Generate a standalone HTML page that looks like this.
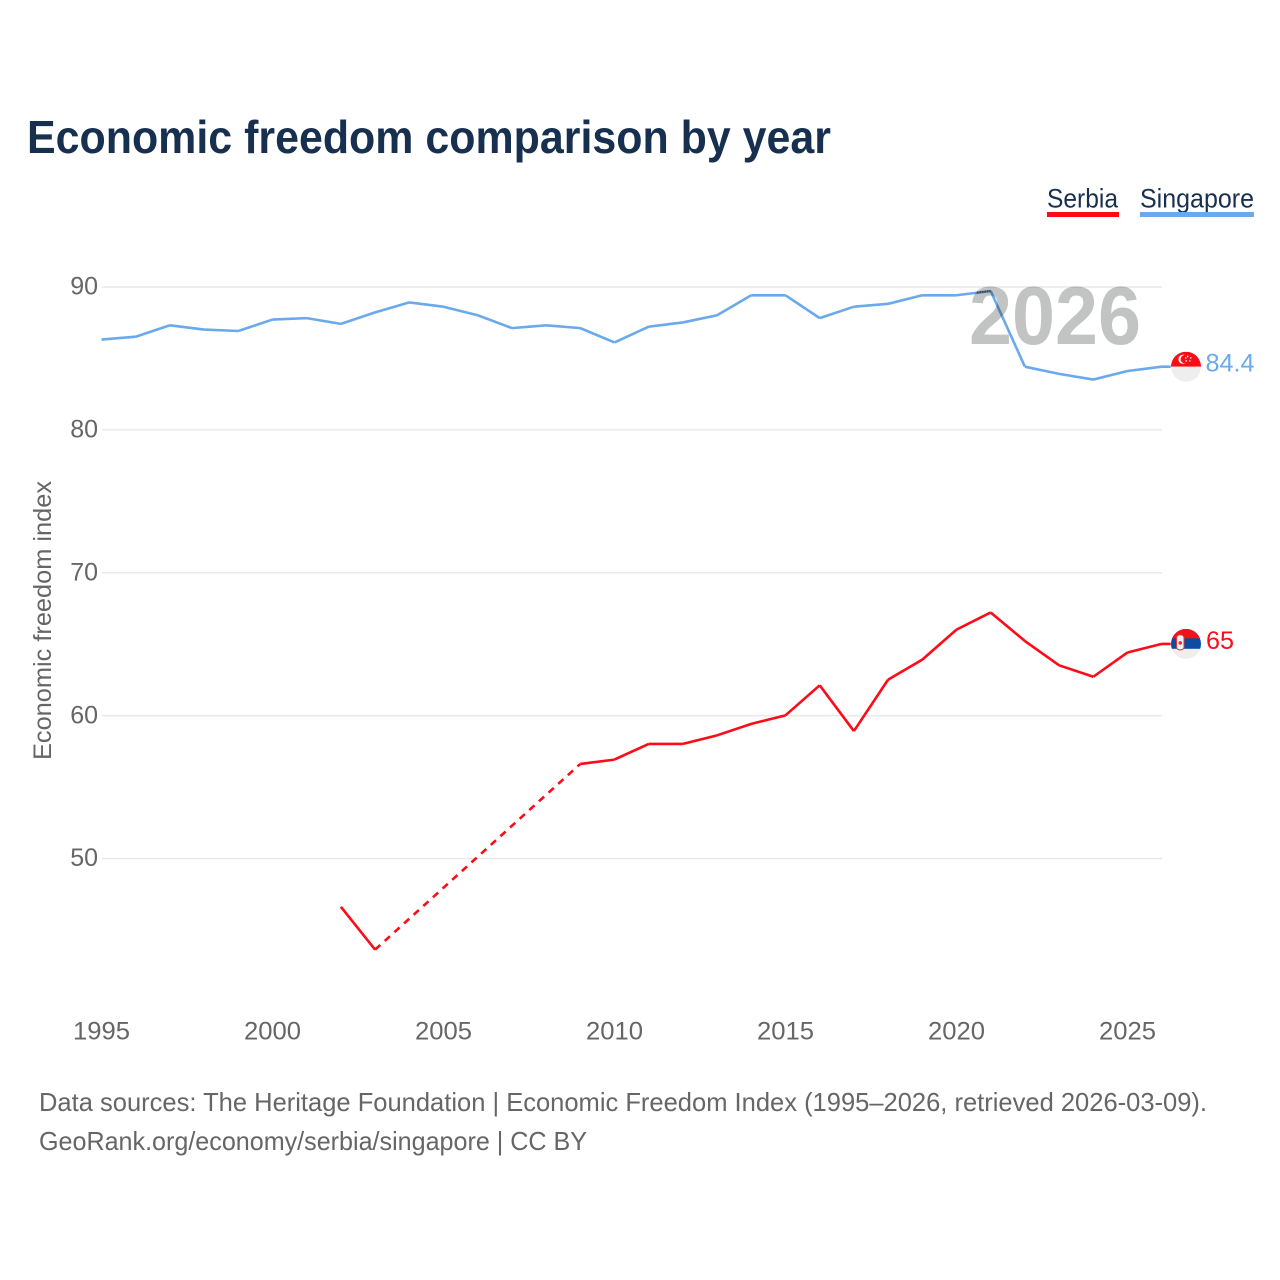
<!DOCTYPE html>
<html>
<head>
<meta charset="utf-8">
<style>
html,body{margin:0;padding:0;background:#fff;}
svg{display:block;font-family:"Liberation Sans",sans-serif;}
</style>
</head>
<body>
<svg id="chart" xmlns="http://www.w3.org/2000/svg" width="1280" height="1280" viewBox="0 0 1280 1280">
  <rect width="1280" height="1280" fill="#fff"/>
  <text x="27" y="153" font-size="46" font-weight="700" fill="#18304f" textLength="804" lengthAdjust="spacingAndGlyphs">Economic freedom comparison by year</text>
  <g>
    <g>
      <text x="1047" y="207.5" font-size="27" fill="#18304f" textLength="71" lengthAdjust="spacingAndGlyphs">Serbia</text>
      <rect x="1047" y="212" width="72" height="5" fill="#ff0a17"/>
    </g>
    <g>
      <text x="1140" y="207.5" font-size="27" fill="#18304f" textLength="114" lengthAdjust="spacingAndGlyphs">Singapore</text>
      <rect x="1140" y="212" width="114" height="5" fill="#6aa9ec"/>
    </g>
  </g>
  <text transform="translate(51,620.5) rotate(-90)" text-anchor="middle" font-size="25" fill="#666" textLength="279" lengthAdjust="spacingAndGlyphs">Economic freedom index</text>
  <g id="grid"></g>
  <g id="yticks"></g>
  <g id="xticks"></g>
  <g id="series"></g>
  <text id="yearLabel" x="1055" y="344" text-anchor="middle" font-size="83" font-weight="700" fill="#c2c4c3" style="mix-blend-mode:multiply" textLength="172" lengthAdjust="spacingAndGlyphs">2026</text>
  <g id="overlap"></g>
  <defs>
    <clipPath id="flagClip"><circle cx="0" cy="0" r="15"/></clipPath>
  </defs>
  <g id="endSerbia">
    <g clip-path="url(#flagClip)">
      <rect x="-15" y="-15" width="30" height="10" fill="#f0131e"/>
      <rect x="-15" y="-5.5" width="30" height="10.5" fill="#0c4da2"/>
      <rect x="-15" y="5" width="30" height="10" fill="#eeeeee"/>
      <rect x="-9.5" y="-9" width="7.5" height="15" rx="3" fill="#f4f0f0" stroke="#e8303a" stroke-width="1"/>
      <circle cx="-5.7" cy="-1" r="1.8" fill="#e8303a"/>
    </g>
    <text id="labelSerbia" x="20" y="5" font-size="25" fill="#ff0a17" textLength="28" lengthAdjust="spacingAndGlyphs">65</text>
  </g>
  <g id="endSingapore">
    <g clip-path="url(#flagClip)">
      <rect x="-15" y="-15" width="30" height="15" fill="#ff0a17"/>
      <rect x="-15" y="0" width="30" height="15" fill="#eeeeee"/>
      <circle cx="-3" cy="-7.5" r="4.6" fill="#fff"/>
      <circle cx="-1.2" cy="-7.5" r="4.2" fill="#ff0a17"/>
      <path d="M1 -11h1.4v1.4h-1.4zM4 -9.5h1.4v1.4h-1.4zM3 -6.5h1.4v1.4h-1.4zM-.4 -6.5h1.4v1.4h-1.4zM-1 -9.5h1.4v1.4h-1.4z" fill="#fff"/>
    </g>
    <text id="labelSingapore" x="19.5" y="5" font-size="25" fill="#6aa9ec" textLength="49" lengthAdjust="spacingAndGlyphs">84.4</text>
  </g>
  <g font-size="26" fill="#666">
    <text x="39" y="1111" textLength="1168" lengthAdjust="spacingAndGlyphs">Data sources: The Heritage Foundation | Economic Freedom Index (1995–2026, retrieved 2026-03-09).</text>
    <text x="39" y="1150" textLength="548" lengthAdjust="spacingAndGlyphs">GeoRank.org/economy/serbia/singapore | CC BY</text>
  </g>
</svg>
<script>
var years = [1995,1996,1997,1998,1999,2000,2001,2002,2003,2004,2005,2006,2007,2008,2009,2010,2011,2012,2013,2014,2015,2016,2017,2018,2019,2020,2021,2022,2023,2024,2025,2026];
var singaporeValues = [86.3,86.5,87.3,87.0,86.9,87.7,87.8,87.4,88.2,88.9,88.6,88.0,87.1,87.3,87.1,86.1,87.2,87.5,88.0,89.4,89.4,87.8,88.6,88.8,89.4,89.4,89.7,84.4,83.9,83.5,84.1,84.4];
var serbiaValues = [null,null,null,null,null,null,null,46.6,43.6,null,null,null,null,null,56.6,56.9,58.0,58.0,58.6,59.4,60.0,62.1,58.9,62.5,63.9,66.0,67.2,65.2,63.5,62.7,64.4,65.0];
var yTickValues = [50,60,70,80,90];
var xTickYears = [1995,2000,2005,2010,2015,2020,2025];

var NS = 'http://www.w3.org/2000/svg';
function xScale(year){ return 101.5 + (year - 1995) * (1161.7 - 101.5) / (2026 - 1995); }
function yScale(v){ return 287 + (90 - v) * (858.5 - 287) / 40 - 0.3; }
function make(tag, parent){
  var el = document.createElementNS(NS, tag);
  parent.appendChild(el);
  return el;
}

var grid = document.getElementById('grid');
var yticks = document.getElementById('yticks');
yTickValues.forEach(function(v){
  var line = make('line', grid);
  
  
  line.setAttribute('x1', 102);
  line.setAttribute('x2', 1162);
  line.setAttribute('y1', yScale(v) + 0.3);
  line.setAttribute('y2', yScale(v) + 0.3);
  line.setAttribute('stroke', '#e9e9e9');
  line.setAttribute('stroke-width', '1.5');
  var t = make('text', yticks);
  
  
  t.setAttribute('x', 98);
  t.setAttribute('y', yScale(v) + 8);
  t.setAttribute('text-anchor', 'end');
  t.setAttribute('font-size', '25');
  t.setAttribute('fill', '#666');
  t.textContent = v;
});

var xticks = document.getElementById('xticks');
xTickYears.forEach(function(y){
  var t = make('text', xticks);
  
  
  t.setAttribute('x', xScale(y));
  t.setAttribute('y', 1039.5);
  t.setAttribute('text-anchor', 'middle');
  t.setAttribute('font-size', '25');
  t.setAttribute('fill', '#666');
  t.setAttribute('textLength', '57');
  t.setAttribute('lengthAdjust', 'spacingAndGlyphs');
  t.textContent = y;
});

var seriesGroup = document.getElementById('series');
function drawSeries(values, color, name){
  var present = [];
  values.forEach(function(v, i){ if (v !== null) present.push(i); });
  var solid = '', dashed = '';
  for (var k = 1; k < present.length; k++){
    var a = present[k-1], b = present[k];
    var seg = 'M' + xScale(years[a]) + ' ' + yScale(values[a]) + 'L' + xScale(years[b]) + ' ' + yScale(values[b]);
    if (b - a === 1) { solid += seg; } else { dashed += seg; }
  }
  var last = present[present.length - 1];
  var lx = xScale(years[last]), ly = yScale(values[last]);
  solid += 'M' + lx + ' ' + ly + 'L' + (lx + 9) + ' ' + ly;
  var p = make('path', seriesGroup);
  
  
  p.setAttribute('d', solid);
  p.setAttribute('fill', 'none');
  p.setAttribute('stroke', color);
  p.setAttribute('stroke-width', '2.6');
  p.setAttribute('stroke-linejoin', 'round');
  if (dashed) {
    var d = make('path', seriesGroup);
    
    
    d.setAttribute('d', dashed);
    d.setAttribute('fill', 'none');
    d.setAttribute('stroke', color);
    d.setAttribute('stroke-width', '2.6');
    d.setAttribute('stroke-dasharray', '7,6');
  }
}
drawSeries(singaporeValues, '#6aa9ec', 'singapore');
drawSeries(serbiaValues, '#ff0a17', 'serbia');

var overlapGroup = document.getElementById('overlap');
var i2020 = years.indexOf(2020);
var i2021 = years.indexOf(2021);
var overlapStart = singaporeValues[i2020] + (singaporeValues[i2021] - singaporeValues[i2020]) * 0.6;
var overlapPath = make('path', overlapGroup);


overlapPath.setAttribute('d', 'M' + xScale(2020.6) + ' ' + yScale(overlapStart) + 'L' + xScale(2021) + ' ' + yScale(singaporeValues[i2021]));
overlapPath.setAttribute('fill', 'none');
overlapPath.setAttribute('stroke', '#444');
overlapPath.setAttribute('stroke-width', '2');
overlapPath.setAttribute('stroke-dasharray', '1.5,1');

function placeEnd(id, labelId, values){
  var v = values[values.length - 1];
  document.getElementById(id).setAttribute('transform', 'translate(1186,' + yScale(v) + ')');
  document.getElementById(labelId).textContent = v;
}
placeEnd('endSerbia', 'labelSerbia', serbiaValues);
placeEnd('endSingapore', 'labelSingapore', singaporeValues);
</script>
</body>
</html>
